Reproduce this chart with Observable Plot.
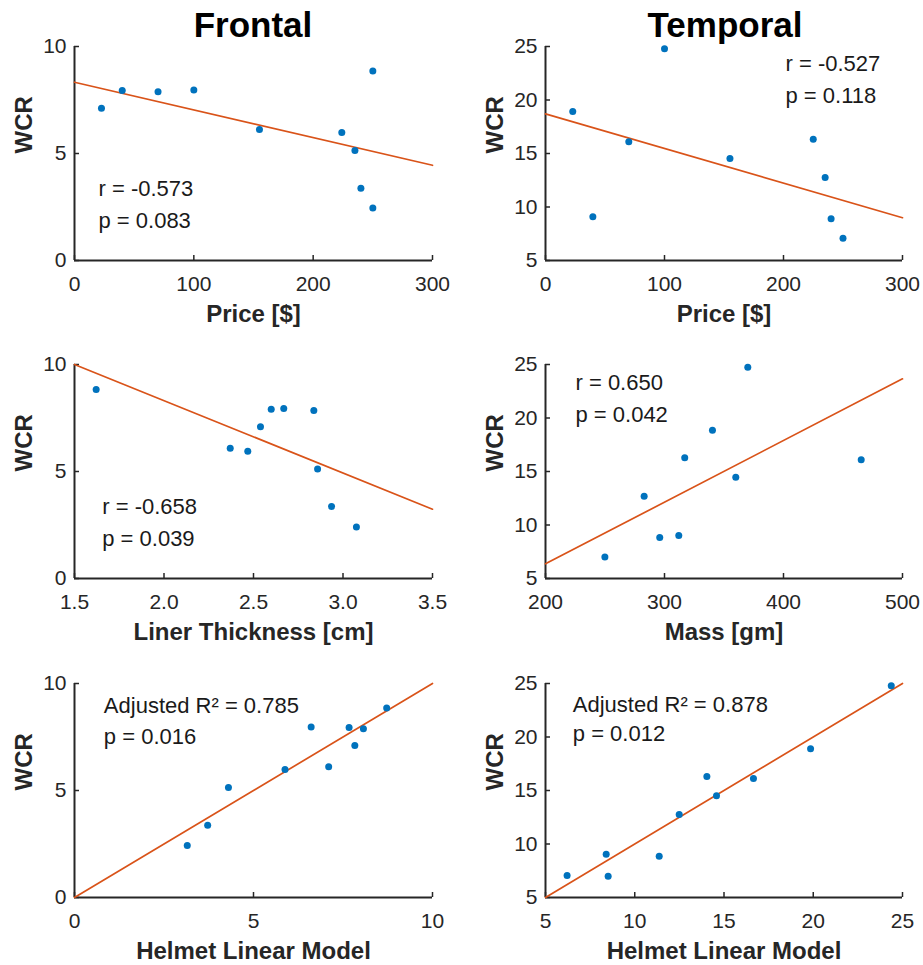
<!DOCTYPE html>
<html>
<head>
<meta charset="utf-8">
<script src="https://cdn.jsdelivr.net/npm/d3@7"></script>
<script src="https://cdn.jsdelivr.net/npm/@observablehq/plot@0.6"></script>
<style>
  body { margin: 0; background: #fff; }
  #root { position: relative; width: 923px; height: 965px; font-family: "Liberation Sans", Arial, sans-serif; overflow: hidden; }
  .title { position: absolute; top: 7px; font-weight: bold; font-size: 35px; line-height: 35px; color: #000; transform: translateX(-50%); white-space: nowrap; }
  .panel { position: absolute; }
</style>
</head>
<body>
<div id="root"></div>
<script>
// ---- Column titles ----
const columnTitles = ["Frontal", "Temporal"];

// ---- Frontal: WCR vs Price ----
const frontalPriceX = [22.6, 40, 70, 100, 155, 224, 235, 240, 250, 250];
const frontalPriceWCR = [7.12, 7.94, 7.88, 7.97, 6.12, 5.98, 5.14, 3.38, 2.45, 8.86];
const frontalPriceFitX = [0, 300];
const frontalPriceFitY = [8.33, 4.45];
const frontalPriceNote = ["r = -0.573", "p = 0.083"];

// ---- Temporal: WCR vs Price ----
const temporalPriceX = [22.9, 39.8, 70, 100, 155, 225, 235, 240, 250];
const temporalPriceWCR = [18.93, 9.08, 16.1, 24.8, 14.53, 16.34, 12.76, 8.9, 7.09];
const temporalPriceFitX = [0, 300];
const temporalPriceFitY = [18.7, 9.0];
const temporalPriceNote = ["r = -0.527", "p = 0.118"];

// ---- Frontal: WCR vs Liner Thickness ----
const frontalLinerX = [1.621, 2.37, 2.468, 2.539, 2.599, 2.669, 2.837, 2.858, 2.936, 3.075];
const frontalLinerWCR = [8.83, 6.09, 5.95, 7.09, 7.91, 7.94, 7.85, 5.12, 3.36, 2.41];
const frontalLinerFitX = [1.5, 3.5];
const frontalLinerFitY = [10.0, 3.24];
const frontalLinerNote = ["r = -0.658", "p = 0.039"];

// ---- Temporal: WCR vs Mass ----
const temporalMassX = [249.9, 282.9, 296, 312, 317, 340.3, 359.9, 370, 465.3];
const temporalMassWCR = [7.0, 12.69, 8.83, 9.02, 16.28, 18.86, 14.47, 24.75, 16.1];
const temporalMassFitX = [200, 500];
const temporalMassFitY = [6.37, 23.66];
const temporalMassNote = ["r = 0.650", "p = 0.042"];

// ---- Frontal: WCR vs Helmet Linear Model ----
const frontalModelX = [3.15, 3.72, 4.30, 5.88, 6.61, 7.10, 7.67, 7.83, 8.07, 8.72];
const frontalModelWCR = [2.43, 3.38, 5.14, 5.98, 7.97, 6.11, 7.94, 7.10, 7.88, 8.86];
const frontalModelFitX = [0, 10];
const frontalModelFitY = [0, 10];
const frontalModelNote = ["Adjusted R² = 0.785", "p = 0.016"];

// ---- Temporal: WCR vs Helmet Linear Model ----
const temporalModelX = [6.21, 8.40, 8.51, 11.37, 12.49, 14.04, 14.58, 16.65, 19.85, 24.37];
const temporalModelWCR = [7.06, 9.05, 6.99, 8.86, 12.76, 16.31, 14.5, 16.12, 18.9, 24.8];
const temporalModelFitX = [5, 25];
const temporalModelFitY = [5, 25];
const temporalModelNote = ["Adjusted R² = 0.878", "p = 0.012"];

// ---- Tick labels ----
const priceTicks = [0, 100, 200, 300];
const linerTicks = [1.5, 2, 2.5, 3, 3.5];
const massTicks = [200, 300, 400, 500];
const frontalModelTicks = [0, 5, 10];
const temporalModelTicks = [5, 10, 15, 20, 25];
const frontalWCRTicks = [0, 5, 10];
const temporalWCRTicks = [5, 10, 15, 20, 25];

// ---- Axis labels ----
const yLabel = "WCR";
const xLabels = ["Price [$]", "Liner Thickness [cm]", "Mass [gm]", "Helmet Linear Model"];

// ---- Note anchor positions (data units) ----
const noteXs = [20.1, 201.7, 1.655, 225.2, 0.82, 6.53];
const noteYs = [[3.36, 1.87], [23.38, 20.36], [3.36, 1.85], [23.29, 20.3], [8.97, 7.49], [23.04, 20.3]];

const panels = [
  {col: 0, row: 0, x: frontalPriceX, y: frontalPriceWCR, fx: frontalPriceFitX, fy: frontalPriceFitY, note: frontalPriceNote, xt: priceTicks, yt: frontalWCRTicks, xl: xLabels[0]},
  {col: 1, row: 0, x: temporalPriceX, y: temporalPriceWCR, fx: temporalPriceFitX, fy: temporalPriceFitY, note: temporalPriceNote, xt: priceTicks, yt: temporalWCRTicks, xl: xLabels[0]},
  {col: 0, row: 1, x: frontalLinerX, y: frontalLinerWCR, fx: frontalLinerFitX, fy: frontalLinerFitY, note: frontalLinerNote, xt: linerTicks, yt: frontalWCRTicks, xl: xLabels[1]},
  {col: 1, row: 1, x: temporalMassX, y: temporalMassWCR, fx: temporalMassFitX, fy: temporalMassFitY, note: temporalMassNote, xt: massTicks, yt: temporalWCRTicks, xl: xLabels[2]},
  {col: 0, row: 2, x: frontalModelX, y: frontalModelWCR, fx: frontalModelFitX, fy: frontalModelFitY, note: frontalModelNote, xt: frontalModelTicks, yt: frontalWCRTicks, xl: xLabels[3]},
  {col: 1, row: 2, x: temporalModelX, y: temporalModelWCR, fx: temporalModelFitX, fy: temporalModelFitY, note: temporalModelNote, xt: temporalModelTicks, yt: temporalWCRTicks, xl: xLabels[3]}
];

const root = document.getElementById("root");
const FONT = '"Liberation Sans", Arial, sans-serif';
const AXIS = "#262626";
const colLayout = [
  {left: 0, width: 461, ml: 74, mr: 29, titleX: 253},
  {left: 461, width: 462, ml: 84, mr: 21, titleX: 725}
];
const rowTops = [30, 348, 667];
const MT = 16, MB = 68, H = 298;

columnTitles.forEach((t, i) => {
  const d = document.createElement("div");
  d.className = "title";
  d.style.left = colLayout[i].titleX + "px";
  d.textContent = t;
  root.appendChild(d);
});

panels.forEach((p, idx) => {
  const c = colLayout[p.col];
  const fw = c.width - c.ml - c.mr;
  const fh = H - MT - MB;
  const pts = p.x.map((v, i) => ({x: v, y: p.y[i]}));
  const fit = p.fx.map((v, i) => ({x: v, y: p.fy[i]}));
  const notes = p.note.map((t, i) => ({t, x: noteXs[idx], y: noteYs[idx][i]}));
  const xmin = p.xt[0], xmax = p.xt[p.xt.length - 1];
  const ymin = p.yt[0], ymax = p.yt[p.yt.length - 1];
  const chart = Plot.plot({
    width: c.width,
    height: H,
    marginLeft: c.ml,
    marginRight: c.mr,
    marginTop: MT,
    marginBottom: MB,
    x: {domain: [xmin, xmax]},
    y: {domain: [ymin, ymax]},
    style: {fontFamily: FONT, fontSize: "21px", color: AXIS, background: "transparent", overflow: "visible"},
    marks: [
      Plot.axisX({ticks: p.xt, tickSize: 0, tickPadding: 16, label: null, fontSize: 21, fill: AXIS}),
      Plot.axisY({ticks: p.yt, tickSize: 0, tickPadding: 8, label: null, fontSize: 21, fill: AXIS}),
      Plot.tickX(p.xt, {x: d => d, insetTop: fh - 5, stroke: AXIS, strokeWidth: 1.5}),
      Plot.tickY(p.yt, {y: d => d, insetRight: fw - 5, stroke: AXIS, strokeWidth: 1.5}),
      Plot.ruleY([ymin], {stroke: AXIS, strokeWidth: 2}),
      Plot.ruleX([xmin], {stroke: AXIS, strokeWidth: 2}),
      Plot.line(fit, {x: "x", y: "y", stroke: "#D95319", strokeWidth: 1.7}),
      Plot.dot(pts, {x: "x", y: "y", r: 3.5, fill: "#0072BD", stroke: null}),
      Plot.text(notes, {x: "x", y: "y", text: "t", textAnchor: "start", lineAnchor: "middle", fontSize: 22, fill: "#1a1a1a"}),
      Plot.text([p.xl], {frameAnchor: "bottom", text: d => d, dy: 54, lineAnchor: "middle", fontSize: 24, fontWeight: "bold", fill: AXIS}),
      Plot.text([yLabel], {frameAnchor: "left", text: d => d, rotate: -90, dx: -50, lineAnchor: "middle", fontSize: 24, fontWeight: "bold", fill: AXIS})
    ]
  });
  chart.classList.add("panel");
  chart.style.left = c.left + "px";
  chart.style.top = rowTops[p.row] + "px";
  root.appendChild(chart);
});
</script>
</body>
</html>
